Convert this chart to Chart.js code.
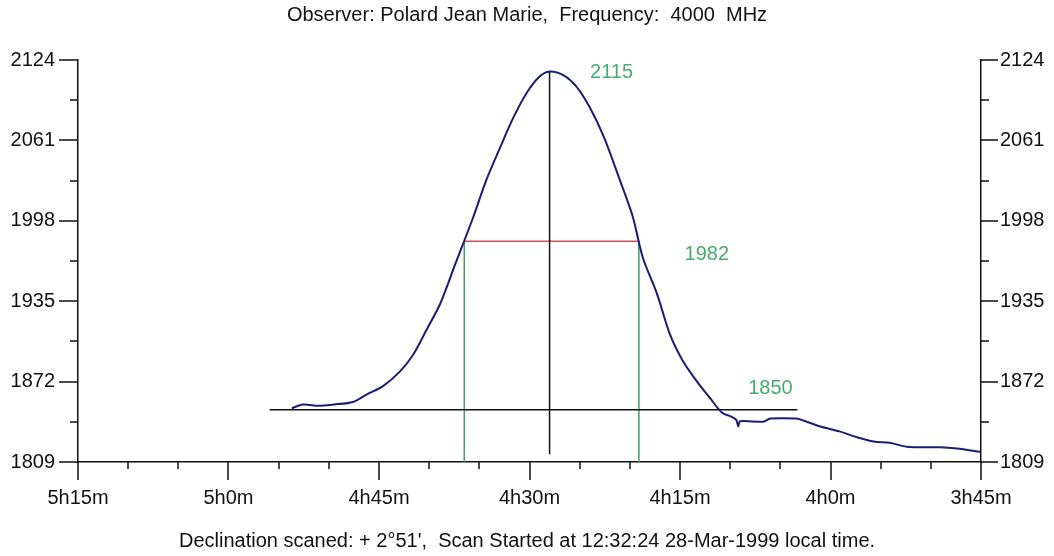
<!DOCTYPE html>
<html lang="en">
<head>
<meta charset="UTF-8">
<title>Drift scan 4000 MHz</title>
<script src="https://cdn.jsdelivr.net/npm/chart.js"></script>
<style>
  html, body { margin: 0; padding: 0; background: #fff; }
</style>
</head>
<body>
<canvas id="scanChart" width="1054" height="556"></canvas>
<script>
// Drift scan, x = right ascension in minutes (4h30m -> 270), y = receiver level
const scanMinutes = [293.7, 292.6, 291.0, 289.5, 287.6, 286.2, 284.6, 282.9, 281.6, 280.3,
                     278.9, 277.4, 275.6, 274.3, 272.9, 271.6, 270.3, 269.0, 268.0,
                     266.6, 265.3, 264.0, 262.6, 261.0, 259.7, 258.7, 257.3, 256.0,
                     254.7, 253.3, 252.0, 250.8, 250.0, 249.4, 249.2, 249.0, 246.7, 246.0,
                     243.4, 242.7, 241.1, 239.1, 237.4, 235.7, 234.1, 232.4, 229.1, 227.4, 225.1];
const scanLevel = [1851, 1854, 1853, 1854, 1856, 1862, 1868.5, 1880, 1893, 1912,
                   1933, 1964, 2001, 2030, 2056, 2079, 2098, 2111, 2115,
                   2112, 2103, 2087, 2064, 2030, 2001, 1969, 1941, 1909,
                   1888, 1872, 1859, 1847.5, 1845, 1842, 1837, 1841, 1840.5, 1843,
                   1843, 1841.5, 1837, 1833, 1828.5, 1825, 1824, 1821, 1820.5, 1819.5, 1817];

const xTickMinutes = [315, 300, 285, 270, 255, 240, 225];
const xTickLabels = ['5h15m', '5h0m', '4h45m', '4h30m', '4h15m', '4h0m', '3h45m'];
const yTickValues = [1809, 1872, 1935, 1998, 2061, 2124];

// levels found on the scan
const peakLevel = 2115;
const halfLevel = 1982;
const baseLevel = 1850;
const peakMinute = 268.0;
const peakLineFoot = 1815;
const halfLeftMinute = 276.5;
const halfRightMinute = 259.1;
const baseStartMinute = 295.9;
const baseEndMinute = 243.3;

const FONT = "'Liberation Sans', Arial, sans-serif";
Chart.defaults.font.family = FONT;
Chart.defaults.font.size = 20;
Chart.defaults.color = '#111';

const seg = (x1, y1, x2, y2) => [{x: x1, y: y1}, {x: x2, y: y2}];

// short and long tick marks on all three axes
const axisTicks = {
  id: 'axisTicks',
  afterDraw(chart) {
    const {ctx, chartArea: area, scales: {x, y}} = chart;
    ctx.save();
    ctx.strokeStyle = '#111';
    ctx.lineWidth = 1.5;
    ctx.beginPath();
    for (let m = xTickMinutes[6]; m <= xTickMinutes[0]; m += 5) {
      const px = Math.round(x.getPixelForValue(m));
      const len = xTickMinutes.includes(m) ? 18 : 7;
      ctx.moveTo(px, area.bottom);
      ctx.lineTo(px, area.bottom + len);
    }
    const half = (yTickValues[1] - yTickValues[0]) / 2;
    for (let k = 0; k <= (yTickValues.length - 1) * 2; k++) {
      const py = Math.round(y.getPixelForValue(yTickValues[0] + half * k));
      const major = k % 2 === 0;
      ctx.moveTo(area.left, py);
      ctx.lineTo(area.left - (major ? 19 : 8), py);
      ctx.moveTo(area.right, py);
      ctx.lineTo(area.right + (major ? 17 : 8), py);
    }
    ctx.stroke();
    ctx.restore();
  }
};

// green level numbers next to the marks
const levelLabels = {
  id: 'levelLabels',
  afterDatasetsDraw(chart) {
    const {ctx, scales: {x, y}} = chart;
    ctx.save();
    ctx.fillStyle = '#46ad6f';
    ctx.font = '20px ' + FONT;
    ctx.textAlign = 'center';
    ctx.textBaseline = 'middle';
    ctx.fillText(String(peakLevel), x.getPixelForValue(peakMinute) + 62, y.getPixelForValue(peakLevel) + 1);
    ctx.fillText(String(halfLevel), x.getPixelForValue(halfRightMinute) + 68, y.getPixelForValue(halfLevel) + 13);
    ctx.fillText(String(baseLevel), x.getPixelForValue(baseEndMinute) - 27, y.getPixelForValue(baseLevel) - 21);
    ctx.restore();
  }
};

const yAxis = (position, padding, width) => ({
  type: 'linear',
  position: position,
  display: true,
  min: yTickValues[0],
  max: yTickValues[yTickValues.length - 1],
  afterBuildTicks: s => { s.ticks = yTickValues.map(v => ({value: v})); },
  ticks: { callback: v => String(v), padding: padding, color: '#111' },
  grid: { display: false, drawTicks: false },
  border: { display: true, color: '#111', width: 1.5 },
  afterFit: s => { s.width = width; }
});

new Chart(document.getElementById('scanChart'), {
  type: 'line',
  data: {
    datasets: [
      {
        data: scanMinutes.map((m, i) => ({x: m, y: scanLevel[i]})),
        borderColor: '#1c1c74',
        borderWidth: 2,
        tension: 0.3,
        order: 0
      },
      { data: seg(peakMinute, peakLevel, peakMinute, peakLineFoot), borderColor: '#111', borderWidth: 1.5, order: 1 },
      { data: seg(baseStartMinute, baseLevel, baseEndMinute, baseLevel), borderColor: '#111', borderWidth: 1.5, order: 1 },
      { data: seg(halfLeftMinute, halfLevel, halfLeftMinute, yTickValues[0]), borderColor: '#3f9e63', borderWidth: 1.5, order: 2 },
      { data: seg(halfRightMinute, halfLevel, halfRightMinute, yTickValues[0]), borderColor: '#3f9e63', borderWidth: 1.5, order: 2 },
      { data: seg(halfLeftMinute, halfLevel, halfRightMinute, halfLevel), borderColor: '#c8505a', borderWidth: 1.5, order: 3 }
    ]
  },
  options: {
    responsive: false,
    animation: false,
    events: [],
    layout: { padding: 0 },
    elements: { point: { radius: 0 } },
    scales: {
      x: {
        type: 'linear',
        reverse: true,
        min: xTickMinutes[6],
        max: xTickMinutes[0],
        afterBuildTicks: s => { s.ticks = xTickMinutes.map(v => ({value: v})); },
        ticks: {
          callback: v => xTickLabels[xTickMinutes.indexOf(v)],
          padding: 24, maxRotation: 0, autoSkip: false, color: '#111'
        },
        grid: { display: false, drawTicks: false },
        border: { display: true, color: '#111', width: 1.5 },
        afterFit: s => { s.height = 63; }
      },
      y: yAxis('left', 23, 78),
      y2: yAxis('right', 19, 73)
    },
    plugins: {
      legend: { display: false },
      tooltip: { enabled: false },
      title: {
        display: true,
        text: 'Observer: Polard Jean Marie,  Frequency:  4000  MHz',
        color: '#111',
        font: { size: 20, weight: 'normal' },
        padding: { top: 3, bottom: 33 }
      },
      subtitle: {
        display: true,
        position: 'bottom',
        text: "Declination scaned: + 2°51',  Scan Started at 12:32:24 28-Mar-1999 local time.",
        color: '#111',
        font: { size: 20, weight: 'normal' },
        padding: { top: 4, bottom: 3 }
      }
    }
  },
  plugins: [axisTicks, levelLabels]
});
</script>
</body>
</html>
